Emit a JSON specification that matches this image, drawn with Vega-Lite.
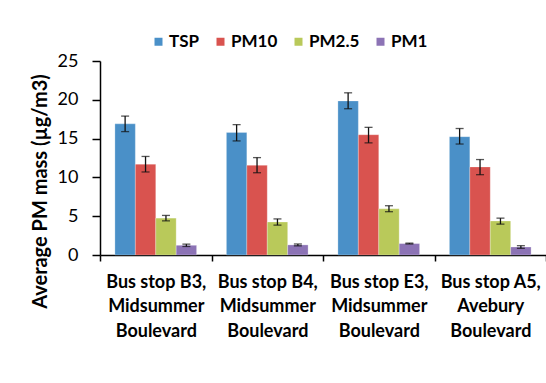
{
  "$schema": "https://vega.github.io/schema/vega-lite/v6.json",
  "autosize": {"type": "none"},
  "padding": {"left": 100, "top": 61, "right": 0, "bottom": 128},
  "width": 446,
  "height": 194,
  "background": "white",
  "config": {
    "font": "Lato",
    "view": {"stroke": null},
    "axis": {"grid": false, "domainColor": "black", "tickColor": "black", "labelColor": "black", "titleColor": "black", "domainWidth": 1.5, "tickWidth": 1.5},
    "axisY": {
      "values": [0, 5, 10, 15, 20, 25], "tickSize": 8, "labelPadding": 14, "labelOverlap": false,
      "labelFontSize": 18, "titleFontSize": 20, "titleFontWeight": "bold", "titleX": -60, "titleY": 130,
      "titleAngle": -90, "titleBaseline": "middle", "titleAlign": "center"
    }
  },
  "data": {
    "values": [
      {"site": "Bus stop B3, Midsummer Boulevard", "pm": "TSP", "mean": 16.9, "lo": 15.9, "hi": 17.9},
      {"site": "Bus stop B3, Midsummer Boulevard", "pm": "PM10", "mean": 11.7, "lo": 10.7, "hi": 12.7},
      {"site": "Bus stop B3, Midsummer Boulevard", "pm": "PM2.5", "mean": 4.75, "lo": 4.4, "hi": 5.1},
      {"site": "Bus stop B3, Midsummer Boulevard", "pm": "PM1", "mean": 1.25, "lo": 1.1, "hi": 1.4},
      {"site": "Bus stop B4, Midsummer Boulevard", "pm": "TSP", "mean": 15.8, "lo": 14.7, "hi": 16.8},
      {"site": "Bus stop B4, Midsummer Boulevard", "pm": "PM10", "mean": 11.55, "lo": 10.6, "hi": 12.55},
      {"site": "Bus stop B4, Midsummer Boulevard", "pm": "PM2.5", "mean": 4.25, "lo": 3.85, "hi": 4.65},
      {"site": "Bus stop B4, Midsummer Boulevard", "pm": "PM1", "mean": 1.3, "lo": 1.18, "hi": 1.42},
      {"site": "Bus stop E3, Midsummer Boulevard", "pm": "TSP", "mean": 19.85, "lo": 18.85, "hi": 20.9},
      {"site": "Bus stop E3, Midsummer Boulevard", "pm": "PM10", "mean": 15.5, "lo": 14.45, "hi": 16.45},
      {"site": "Bus stop E3, Midsummer Boulevard", "pm": "PM2.5", "mean": 5.95, "lo": 5.58, "hi": 6.35},
      {"site": "Bus stop E3, Midsummer Boulevard", "pm": "PM1", "mean": 1.47, "lo": 1.42, "hi": 1.53},
      {"site": "Bus stop A5, Avebury Boulevard", "pm": "TSP", "mean": 15.25, "lo": 14.3, "hi": 16.3},
      {"site": "Bus stop A5, Avebury Boulevard", "pm": "PM10", "mean": 11.35, "lo": 10.35, "hi": 12.3},
      {"site": "Bus stop A5, Avebury Boulevard", "pm": "PM2.5", "mean": 4.38, "lo": 3.98, "hi": 4.75},
      {"site": "Bus stop A5, Avebury Boulevard", "pm": "PM1", "mean": 1.03, "lo": 0.86, "hi": 1.2}
    ]
  },
  "encoding": {
    "x": {
      "field": "site", "type": "nominal", "sort": null,
      "scale": {"paddingInner": 0, "paddingOuter": 0},
      "axis": {
        "title": null, "labelAngle": 0, "tickBand": "extent", "tickSize": 6,
        "labelFont": "Lato", "labelFontSize": 18, "labelFontWeight": "bold",
        "labelLineHeight": 24.5, "labelPadding": 12, "labelBaseline": "top",
        "labelExpr": "isValid(datum.value) ? [split(datum.label, ', ')[0] + ',', split(split(datum.label, ', ')[1], ' ')[0], split(split(datum.label, ', ')[1], ' ')[1]] : ''"
      }
    },
    "xOffset": {"field": "pm", "type": "nominal", "sort": ["TSP", "PM10", "PM2.5", "PM1"], "scale": {"paddingInner": 0, "paddingOuter": 0.73}}
  },
  "layer": [
    {
      "mark": {"type": "bar", "stroke": "white", "strokeOpacity": 0.5, "strokeWidth": 0.5},
      "encoding": {
        "y": {
          "field": "mean", "type": "quantitative",
          "scale": {"domain": [0, 25], "nice": false},
          "axis": {"title": "Average PM mass (µg/m3)"}
        },
        "color": {
          "field": "pm", "type": "nominal",
          "scale": {"domain": ["TSP", "PM10", "PM2.5", "PM1"], "range": ["#4A90C8", "#D9534F", "#B9C95A", "#8C73B5"]},
          "legend": {
            "title": null, "orient": "none", "direction": "horizontal", "legendX": 50, "legendY": -28,
            "padding": 0, "symbolOffset": 0,
            "symbolType": "square", "symbolSize": 64, "symbolStrokeWidth": 0,
            "labelFontSize": 17, "labelFontWeight": "bold", "labelColor": "black",
            "labelOffset": 2, "columnPadding": 12
          }
        }
      }
    },
    {
      "mark": {"type": "rule", "color": "#111", "strokeWidth": 1.3},
      "encoding": {
        "y": {"field": "lo", "type": "quantitative", "axis": {"title": "Average PM mass (µg/m3)"}},
        "y2": {"field": "hi"}
      }
    },
    {
      "mark": {"type": "tick", "color": "#111", "size": 8, "thickness": 1.3},
      "encoding": {"y": {"field": "lo", "type": "quantitative", "axis": {"title": "Average PM mass (µg/m3)"}}}
    },
    {
      "mark": {"type": "tick", "color": "#111", "size": 8, "thickness": 1.3},
      "encoding": {"y": {"field": "hi", "type": "quantitative", "axis": {"title": "Average PM mass (µg/m3)"}}}
    }
  ]
}
